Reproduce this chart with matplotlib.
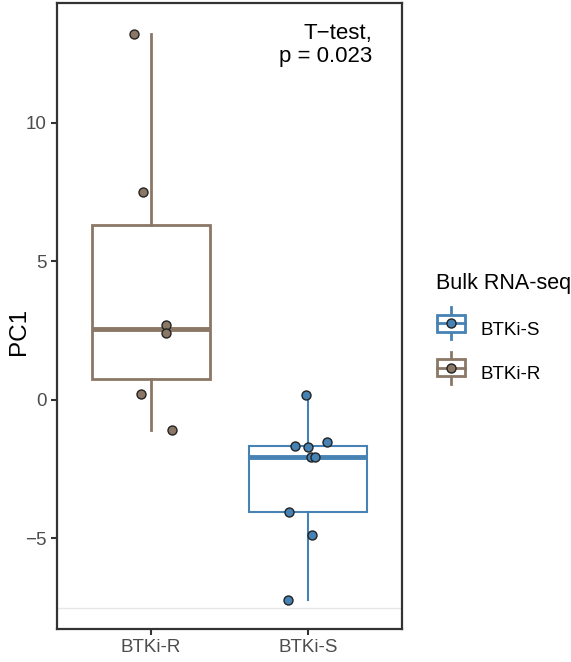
import matplotlib
matplotlib.use("Agg")
import matplotlib.pyplot as plt
from matplotlib.legend_handler import HandlerBase
from matplotlib.patches import Rectangle
from matplotlib.lines import Line2D
import numpy as np

plt.rcParams['font.family'] = ['Liberation Sans', 'DejaVu Sans']

## data
groups = ['BTKi-R', 'BTKi-S']
pc1_r = [13.2, 7.5, 2.7, 2.4, 0.2, -1.08]
pc1_s = [0.19, -1.66, -1.71, -1.52, -2.05, -2.05, -4.06, -4.89, -7.24]
jitter_r = [-0.108, -0.051, 0.096, 0.096, -0.064, 0.134]
jitter_s = [-0.011, -0.081, 0.002, 0.121, 0.019, 0.045, -0.119, 0.026, -0.126]
legend_order = ['BTKi-S', 'BTKi-R']
colors = {'BTKi-R': '#8B7765', 'BTKi-S': '#4682B4'}
box_lw = {'BTKi-R': 2.0, 'BTKi-S': 1.5}

values = {'BTKi-R': pc1_r, 'BTKi-S': pc1_s}
jitters = {'BTKi-R': jitter_r, 'BTKi-S': jitter_s}

fig = plt.figure(figsize=(5.71, 6.62), dpi=100)
ax = fig.add_axes([57/571, 33/662, 345/571, 626/662])

for i, g in enumerate(groups):
    pos = i + 1
    c = colors[g]
    ax.boxplot(values[g], positions=[pos], widths=0.75, whis=(0, 100),
               showfliers=False, patch_artist=True, manage_ticks=False,
               boxprops=dict(facecolor='white', edgecolor=c, linewidth=box_lw[g]),
               medianprops=dict(color=c, linewidth=3.5, solid_capstyle='butt'),
               whiskerprops=dict(color=c, linewidth=box_lw[g]),
               capprops=dict(linewidth=0))
    ax.scatter(np.array(jitters[g]) + pos, values[g], s=42, color=c,
               edgecolor='#222222', linewidth=1, zorder=5)

ax.axhline(-7.5, color='#e6e6e6', lw=1, zorder=0)

ax.set_xlim(0.4, 2.6)
ax.set_ylim(-8.27, 14.33)
ax.set_xticks([1, 2])
ax.set_xticklabels(groups)
ax.set_yticks([-5, 0, 5, 10])
ax.tick_params(colors='#333333', labelcolor='#4d4d4d', labelsize=13.5, length=4, width=1.5)
for s in ax.spines.values():
    s.set_linewidth(1.6)
    s.set_color('#333333')
ax.set_ylabel('PC1', fontsize=17.5)
ax.yaxis.set_label_coords(-27/345, 0.476)

ax.text(0.913, 0.968, 'T\u2212test,\np = 0.023', transform=ax.transAxes,
        ha='right', va='top', fontsize=16, linespacing=1.1)


class BoxKey(HandlerBase):
    def create_artists(self, legend, orig, xd, yd, w, h, fontsize, trans):
        c = orig.get_color()
        cx = xd + w / 2
        cy = yd + h / 2
        bw, bh = w * 0.95, h * 0.95
        arts = [
            Line2D([cx, cx], [cy - h * 0.9, cy + h * 0.9], color=c, lw=2),
            Rectangle((cx - bw / 2, cy - bh / 2), bw, bh, facecolor='white', edgecolor=c, lw=2),
            Line2D([cx - bw / 2, cx + bw / 2], [cy, cy], color=c, lw=2),
            Line2D([cx], [cy], marker='o', ms=6.5, color=c, mec='#222222', mew=1, lw=0),
        ]
        for a in arts:
            a.set_transform(trans)
        return arts


handles = [Line2D([], [], color=colors[g]) for g in legend_order]
leg = fig.legend(handles, legend_order, handler_map={Line2D: BoxKey()},
                 loc='upper left', bbox_to_anchor=(421/571, 1 - 258/662),
                 frameon=False, title='Bulk RNA-seq', fontsize=13.5,
                 title_fontsize=15.5, handlelength=1.6, handleheight=1.1,
                 labelspacing=1.35, handletextpad=0.75, borderpad=0.3)
leg._legend_box.align = 'left'

fig.savefig('out.png', dpi=100)
